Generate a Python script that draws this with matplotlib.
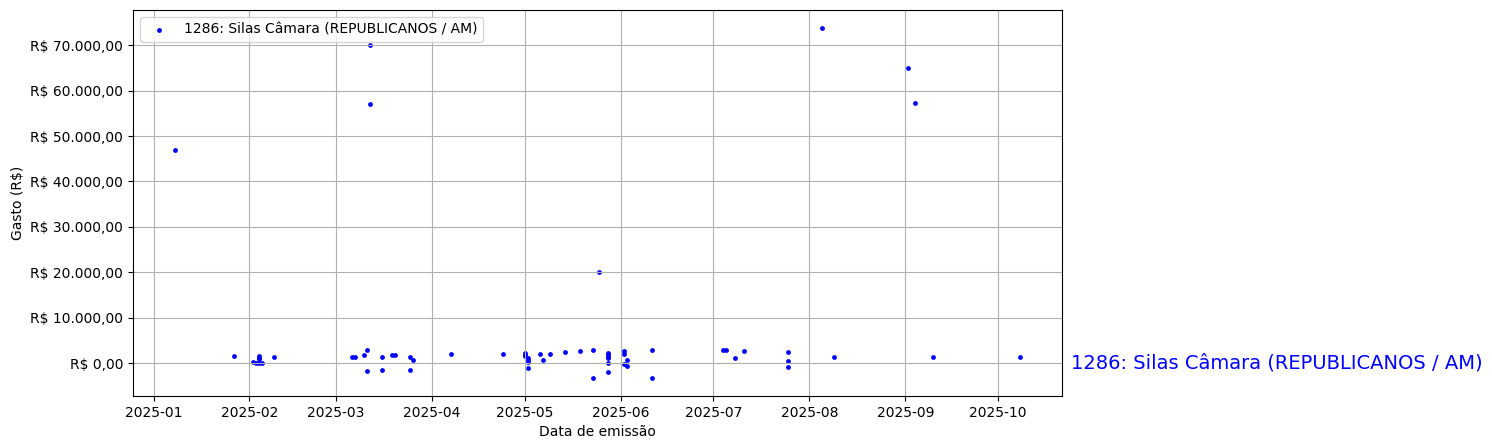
import numpy as np
import pandas as pd
import matplotlib
matplotlib.use("Agg")
import matplotlib.pyplot as plt
import matplotlib.ticker as mticker
import matplotlib.transforms as mtransforms

label = "1286: Silas Câmara (REPUBLICANOS / AM)"

# datas e valores
datas = [
    "2025-01-08", "2025-01-27",
    "2025-02-02", "2025-02-03", "2025-02-04", "2025-02-04", "2025-02-04",
    "2025-02-04", "2025-02-05", "2025-02-09",
    "2025-03-06", "2025-03-07", "2025-03-10", "2025-03-11", "2025-03-11",
    "2025-03-12", "2025-03-12", "2025-03-16", "2025-03-16", "2025-03-19",
    "2025-03-20", "2025-03-25", "2025-03-25", "2025-03-26",
    "2025-04-07", "2025-04-24",
    "2025-05-01", "2025-05-01", "2025-05-01", "2025-05-02", "2025-05-02",
    "2025-05-02", "2025-05-02", "2025-05-06", "2025-05-07", "2025-05-09",
    "2025-05-14", "2025-05-19", "2025-05-23", "2025-05-23", "2025-05-25",
    "2025-05-28", "2025-05-28", "2025-05-28", "2025-05-28", "2025-05-28",
    "2025-05-28", "2025-06-02", "2025-06-02", "2025-06-02", "2025-06-03",
    "2025-06-03", "2025-06-11", "2025-06-11",
    "2025-07-04", "2025-07-05", "2025-07-08", "2025-07-11",
    "2025-07-25", "2025-07-25", "2025-07-25",
    "2025-08-05", "2025-08-09",
    "2025-09-02", "2025-09-04", "2025-09-10",
    "2025-10-08",
]
gastos = [
    47000, 1660,
    400, 50, 1700, 1300, 900,
    100, 150, 1440,
    1440, 1440, 1880, 2990, -1660,
    70000, 57000, 1440, -1440, 1880,
    1880, 1440, -1440, 770,
    2100, 2100,
    2200, 1900, 1600, 1200, 800,
    400, -1000, 2100, 800, 2100,
    2540, 2770, 2990, -3300, 20000,
    2300, 1900, 1500, 1100, 100,
    -1900, 2700, 2000, -100, 800,
    -550, 2990, -3300,
    2990, 2990, 1220, 2770,
    2540, 550, -770,
    73850, 1440,
    65000, 57200, 1440,
    1440,
]

datas = pd.to_datetime(datas)

def brl(v, pos):
    s = "{:,.2f}".format(v)
    s = s.replace(",", "X").replace(".", ",").replace("X", ".")
    return "R$ " + s

fig, ax = plt.subplots(figsize=(14.92, 4.48), dpi=100)
fig.subplots_adjust(left=0.0891, right=0.7118, bottom=0.1161, top=0.9777)

ax.scatter(datas, gastos, s=6, color="blue", label=label)
ax.yaxis.set_major_formatter(mticker.FuncFormatter(brl))
ax.set_xlabel("Data de emissão")
ax.set_ylabel("Gasto (R$)")
ax.grid(True)
ax.legend(loc="upper left")

trans = mtransforms.blended_transform_factory(ax.transAxes, ax.transData)
ax.text(1.0097, 0, label, transform=trans, color="blue", fontsize=14,
        va="center", ha="left")

fig.savefig("out.png", dpi=100)
